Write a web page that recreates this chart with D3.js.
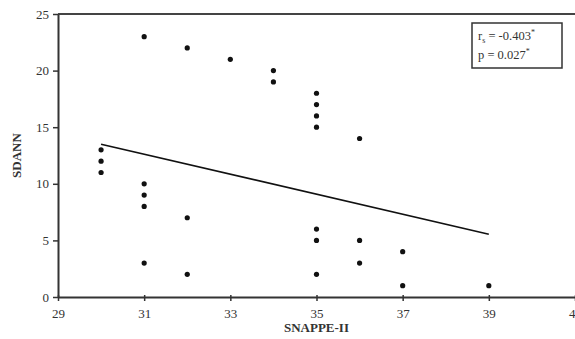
<!DOCTYPE html>
<html>
<head>
<meta charset="utf-8">
<script src="https://cdn.jsdelivr.net/npm/d3@7"></script>
<style>
  body { margin: 0; background: #fff; }
  svg text { font-family: "Liberation Serif", "Times New Roman", serif; fill: #333; }
</style>
</head>
<body>
<svg width="575" height="339"></svg>
<script>
// SNAPPE-II score vs SDANN
const snappe = [30, 30, 30, 31, 31, 31, 31, 31, 32, 32, 32, 33, 34, 34,
  35, 35, 35, 35, 35, 35, 35, 36, 36, 36, 37, 37, 39];
const sdann = [13, 12, 11, 23, 10, 9, 8, 3, 22, 7, 2, 21, 20, 19,
  18, 17, 16, 15, 6, 5, 2, 14, 5, 3, 4, 1, 1];
const fitX = [30, 39];
const fitY = [13.5, 5.55];
const xTicks = [29, 31, 33, 35, 37, 39, 41];
const yTicks = [0, 5, 10, 15, 20, 25];
const statLines = ['-0.403', '0.027'];

const svg = d3.select('svg');
const margin = { top: 14, right: 0, bottom: 42, left: 58 };
const innerHeight = 339 - margin.top - margin.bottom;

const x = d3.scaleLinear().domain([29, 41]).range([0, 517]);
const y = d3.scaleLinear().domain([0, 25]).range([innerHeight, 0]);

const g = svg.append('g').attr('transform', `translate(${margin.left},${margin.top})`);

// top border
g.append('line')
  .attr('x1', 0).attr('x2', 575)
  .attr('y1', 0).attr('y2', 0)
  .attr('stroke', '#444').attr('stroke-width', 2);

/* axes */
const yAxis = g.append('g')
  .call(d3.axisLeft(y).tickValues(yTicks).tickSize(5).tickSizeOuter(0).tickPadding(4));
const xAxis = g.append('g')
  .attr('transform', `translate(0,${innerHeight})`)
  .call(d3.axisBottom(x).tickValues(xTicks).tickSize(4).tickSizeOuter(0).tickPadding(8));

[xAxis, yAxis].forEach((a) => {
  a.select('.domain').attr('stroke', '#333').attr('stroke-width', 2);
  a.selectAll('.tick line').attr('stroke', '#333').attr('stroke-width', 1.5);
  a.selectAll('.tick text').style('font-size', '13px').attr('fill', '#333');
});
xAxis.selectAll('.tick line').attr('y1', -2);

// axis titles
g.append('text')
  .attr('x', x(35)).attr('y', innerHeight + 35)
  .attr('text-anchor', 'middle')
  .style('font-size', '13px').style('font-weight', 'bold')
  .text('SNAPPE-II');

g.append('text')
  .attr('transform', `translate(-37,${innerHeight / 2}) rotate(-90)`)
  .attr('text-anchor', 'middle')
  .style('font-size', '13px').style('font-weight', 'bold')
  .text('SDANN');

/* points */
g.selectAll('circle')
  .data(snappe)
  .enter()
  .append('circle')
  .attr('cx', (d) => x(d))
  .attr('cy', (d, i) => y(sdann[i]))
  .attr('r', 2.6)
  .attr('fill', '#111');

/* regression line */
g.append('line')
  .attr('x1', x(fitX[0])).attr('y1', y(fitY[0]))
  .attr('x2', x(fitX[1])).attr('y2', y(fitY[1]))
  .attr('stroke', '#111').attr('stroke-width', 1.6);

/* stats box */
const box = svg.append('g').attr('transform', 'translate(472,23)');
box.append('rect')
  .attr('width', 90).attr('height', 45)
  .attr('fill', '#fff').attr('stroke', '#333').attr('stroke-width', 1.5);

const t1 = box.append('text').attr('x', 6).attr('y', 17).style('font-size', '12.5px');
t1.append('tspan').text('r');
t1.append('tspan').attr('dy', 3).style('font-size', '8px').text('s');
t1.append('tspan').attr('dy', -3).text(` = ${statLines[0]}`);
t1.append('tspan').attr('dy', -5).style('font-size', '8px').text('*');

const t2 = box.append('text').attr('x', 6).attr('y', 36).style('font-size', '12.5px');
t2.append('tspan').text(`p = ${statLines[1]}`);
t2.append('tspan').attr('dy', -5).style('font-size', '8px').text('*');
</script>
</body>
</html>
